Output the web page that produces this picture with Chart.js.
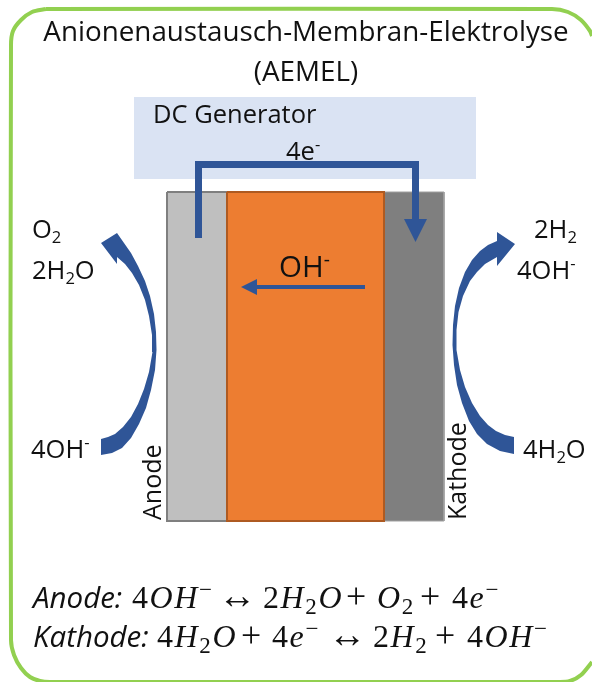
<!DOCTYPE html>
<html>
<head>
<meta charset="utf-8">
<title>AEMEL</title>
<script src="https://cdn.jsdelivr.net/npm/chart.js@4"></script>
<style>
  html, body { margin: 0; padding: 0; background: #fff; }
  canvas { display: block; filter: blur(0.6px); }
</style>
</head>
<body>
<canvas id="chart" width="592" height="682"></canvas>
<script>
/* =========================================================
   DATA - outlines, in picture units
========================================================= */
const frameLine = [[46,9],[32,12],[21,20],[13,31],[11,45],[11,640],[14,655],[21,668],[30,677],[40,681],[50,682],[560,682],[570,681],[581,675],[592,662]];
const frameTop = [[46,9],[552,9],[568,12],[581,20],[590,31],[592,36]];

const generatorBox = [[134,97],[476,97],[476,179],[134,179]];
const anodeBox = [[167,192],[227,192],[227,521],[167,521]];
const membraneBox = [[227,192],[384,192],[384,521],[227,521]];
const kathodeBox = [[384,192],[444,192],[444,521],[384,521]];

const circuitLine = [[195,238],[195,161],[419,161],[419,219],[427,219],[415.5,242],[404,219],[412,219],[412,168],[202,168],[202,238]];
const ionArrow = [[365,285],[365,289],[257,289],[257,295],[241,287],[257,279],[257,285]];

const leftArrow = [
  [101,243],[117,233],[124,243],[131,253],[138,266],[145,281],[150,296],[154,314],[156,332],[156.5,350],[155,370],[151,390],[146,408],
  [139,424],[131,438],[122,448],[112,453],[101,455],[101,439],[108,437],[115,434],[123,427],[131,417],[138,404],[144,389],[149,372],
  [152.5,352],[152,335],[149,316],[145,300],[139,285],[132,273],[125,264],[117,257],[117,264]
];
const rightArrow = [
  [515,244],[497,232],[497,241],[488,245],[480,251],[472,260],[465,272],[459,288],[455,306],[453,325],[452.5,345],[454,365],[457,385],
  [462,403],[469,421],[477,434],[487,444],[500,451],[514,454],[514,437],[505,435],[496,431],[488,425],[480,416],[472,403],[465,387],
  [460,370],[456.5,350],[456.5,330],[458.5,312],[463,296],[470,281],[477,272],[485,264],[497,257],[497,266]
];

const titleLines = ["Anionenaustausch-Membran-Elektrolyse", "(AEMEL)"];
const generatorText = "DC Generator";
const electrodeNames = ["Anode", "Kathode"];
// each term: where it starts, then its text runs
const anodeEquation = [
  [33, [["Anode:","t"]]],
  [132, [["4","m"],["OH","v"],["−","up"]]],
  [218, [["↔","a"]]],
  [263, [["2","m"],["H","v"],["2","low"],["O","v"]]],
  [346, [["+","p"]]],
  [377, [["O","v"],["2","low"]]],
  [420, [["+","p"]]],
  [452, [["4","m"],["e","v"],["−","up"]]]
];
const kathodeEquation = [
  [33, [["Kathode:","t"]]],
  [157, [["4","m"],["H","v"],["2","low"],["O","v"]]],
  [241, [["+","p"]]],
  [272, [["4","m"],["e","v"],["−","up"]]],
  [328, [["↔","a"]]],
  [373, [["2","m"],["H","v"],["2","low"]]],
  [435, [["+","p"]]],
  [467, [["4","m"],["OH","v"],["−","up"]]]
];

/* =========================================================
   TEXT HELPERS
========================================================= */
const SANS = '"Open Sans", sans-serif';
const SERIF = '"Liberation Serif", serif';
const INK = "#111";

function drawRuns(ctx, runs, x, y, size) {
  ctx.textAlign = "left";
  ctx.textBaseline = "alphabetic";
  ctx.fillStyle = INK;
  runs.forEach(([text, kind]) => {
    let font = `${size}px ${SANS}`;
    let dy = 0;
    if (kind === "low") { font = `${size * 0.65}px ${SANS}`; dy = size * 0.2; }
    if (kind === "up") { font = `${size * 0.65}px ${SANS}`; dy = -size * 0.38; }
    ctx.font = font;
    ctx.fillText(text, x, y + dy);
    x += ctx.measureText(text).width;
  });
}

function drawMath(ctx, terms, xScale, y, size) {
  ctx.textAlign = "left";
  ctx.textBaseline = "alphabetic";
  ctx.fillStyle = INK;
  terms.forEach(([start, runs]) => {
    let x = xScale.getPixelForValue(start);
    runs.forEach(([text, kind]) => {
      let font = `${size}px ${SERIF}`;
      let dy = 0;
      ctx.letterSpacing = "1.6px";
      if (kind === "t") { font = `italic 29.5px ${SANS}`; ctx.letterSpacing = "0px"; }
      if (kind === "v") font = `italic ${size}px ${SERIF}`;
      if (kind === "a") font = `${size * 1.2}px ${SERIF}`;
      if (kind === "p") font = `${size * 1.12}px ${SERIF}`;
      if (kind === "low") { font = `${size * 0.72}px ${SERIF}`; dy = size * 0.2; }
      if (kind === "up") { font = `${size * 0.72}px ${SERIF}`; dy = -size * 0.34; }
      ctx.font = font;
      ctx.fillText(text, x, y + dy);
      x += ctx.measureText(text).width;
    });
  });
  ctx.letterSpacing = "0px";
}

const textPlugin = {
  id: "diagramText",
  afterDraw(chart) {
    const { ctx, scales: { x, y } } = chart;
    ctx.save();

    ctx.font = `27.8px ${SANS}`;
    ctx.fillStyle = INK;
    ctx.textAlign = "center";
    ctx.fillText(titleLines[0], x.getPixelForValue(306), y.getPixelForValue(41));
    ctx.fillText(titleLines[1], x.getPixelForValue(306), y.getPixelForValue(81));

    drawRuns(ctx, [[generatorText]], x.getPixelForValue(153), y.getPixelForValue(123), 25.5);
    drawRuns(ctx, [["4e"], ["-", "up"]], x.getPixelForValue(286), y.getPixelForValue(160), 25.5);
    drawRuns(ctx, [["OH"], ["-", "up"]], x.getPixelForValue(279), y.getPixelForValue(277), 29.5);

    drawRuns(ctx, [["O"], ["2", "low"]], x.getPixelForValue(32), y.getPixelForValue(238), 25.5);
    drawRuns(ctx, [["2H"], ["2", "low"], ["O"]], x.getPixelForValue(32), y.getPixelForValue(279), 25.5);
    drawRuns(ctx, [["4OH"], ["-", "up"]], x.getPixelForValue(31), y.getPixelForValue(458), 25.5);
    drawRuns(ctx, [["2H"], ["2", "low"]], x.getPixelForValue(534), y.getPixelForValue(238), 25.5);
    drawRuns(ctx, [["4OH"], ["-", "up"]], x.getPixelForValue(517), y.getPixelForValue(279), 25.5);
    drawRuns(ctx, [["4H"], ["2", "low"], ["O"]], x.getPixelForValue(523), y.getPixelForValue(458), 25.5);

    [[electrodeNames[0], 161], [electrodeNames[1], 466]].forEach(([name, at]) => {
      ctx.save();
      ctx.translate(x.getPixelForValue(at), y.getPixelForValue(520));
      ctx.rotate(-Math.PI / 2);
      drawRuns(ctx, [[name]], 0, 0, 25);
      ctx.restore();
    });

    drawMath(ctx, anodeEquation, x, y.getPixelForValue(608), 32);
    drawMath(ctx, kathodeEquation, x, y.getPixelForValue(647), 32);
    ctx.restore();
  }
};

/* =========================================================
   CHART
========================================================= */
function toPoints(list) {
  return list.map(([x, y]) => ({ x, y }));
}

function closed(list) {
  return [...list, list[0]];
}

function shape(list, fill, border, width) {
  return {
    data: toPoints(closed(list)),
    showLine: true,
    fill: "shape",
    backgroundColor: fill,
    borderColor: border || fill,
    borderWidth: width || 0,
    pointRadius: 0,
    tension: 0
  };
}

function stroke(list, color, width) {
  return {
    data: toPoints(list),
    showLine: true,
    fill: false,
    borderColor: color,
    borderWidth: width,
    pointRadius: 0,
    tension: 0.3
  };
}

// drawn back to front, so the order field runs the other way
const layers = [
  stroke(frameLine, "#92d050", 4),
  stroke(frameTop, "#92d050", 4),
  shape(generatorBox, "#dae3f3"),
  shape(anodeBox, "#bfbfbf", "#7f7f7f", 2),
  shape(kathodeBox, "#7f7f7f", "#a0a0a0", 1),
  shape(membraneBox, "#ed7d31", "#ae5a21", 2),
  shape(circuitLine, "#2f5597"),
  shape(ionArrow, "#2f5597"),
  shape(leftArrow, "#2f5597"),
  shape(rightArrow, "#2f5597")
];
layers.forEach((d, i) => { d.order = layers.length - i; });

new Chart(document.getElementById("chart"), {
  type: "scatter",
  data: { datasets: layers },
  options: {
    responsive: false,
    animation: false,
    events: [],
    layout: { padding: 0 },
    plugins: { legend: { display: false }, tooltip: { enabled: false }, title: { display: false } },
    scales: {
      x: { type: "linear", min: 0, max: 592, display: false },
      y: { type: "linear", min: 0, max: 682, reverse: true, display: false }
    }
  },
  plugins: [textPlugin]
});
</script>
</body>
</html>
